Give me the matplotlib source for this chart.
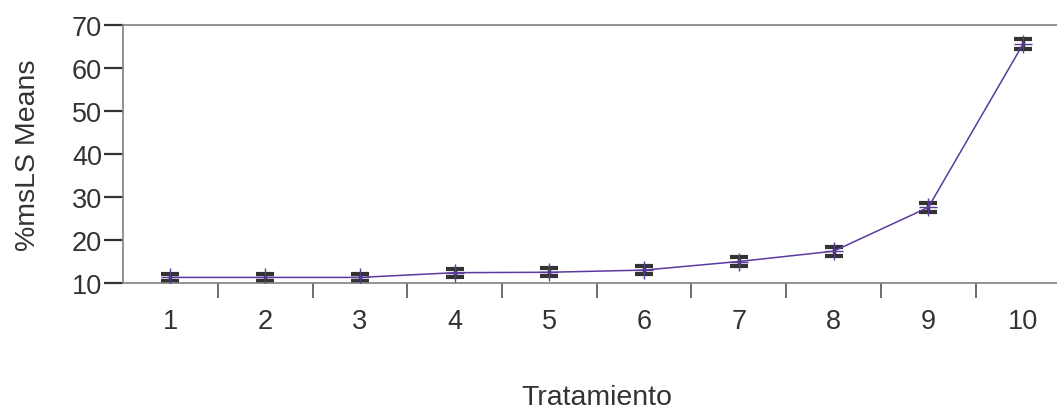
import matplotlib
matplotlib.use("Agg")
import matplotlib.pyplot as plt
from matplotlib.ticker import FixedLocator, NullFormatter

plt.rcParams['font.family'] = ['Liberation Sans', 'DejaVu Sans']

tratamiento = [1, 2, 3, 4, 5, 6, 7, 8, 9, 10]
tick_labels = ["1", "2", "3", "4", "5", "6", "7", "8", "9", "10"]
means = [11.3, 11.3, 11.3, 12.4, 12.5, 13.0, 15.0, 17.4, 27.6, 65.6]
errors = [0.9, 0.9, 0.9, 0.9, 0.9, 0.95, 1.0, 1.05, 1.05, 1.2]

W, H = 1057, 414
fig = plt.figure(figsize=(W / 100, H / 100), dpi=100)
ax = fig.add_axes([123 / W, 1 - 284 / H, (1070.5 - 123) / W, (284 - 26) / H])

text_color = '#333333'
purple = '#5b3a9e'

ax.errorbar(tratamiento, means, yerr=errors, fmt='none', ecolor='#333333',
            elinewidth=2.5, capsize=6.5, capthick=3, zorder=2)
ax.plot(tratamiento, means, color=purple, lw=1.1, marker='+', markersize=13,
        markeredgewidth=1.0, zorder=3)

ax.set_xlim(0.5, 10.5)
ax.set_ylim(10, 70)
ax.set_yticks([10, 20, 30, 40, 50, 60, 70])

ax.set_xticks(tratamiento)
ax.set_xticklabels(tick_labels)
ax.xaxis.set_minor_locator(FixedLocator([i + 0.5 for i in range(1, 10)]))
ax.xaxis.set_minor_formatter(NullFormatter())
ax.tick_params(axis='x', which='major', length=0, pad=18, labelsize=19.5,
               labelcolor=text_color)
ax.tick_params(axis='x', which='minor', length=11, width=1.2, color='#555555')
ax.tick_params(axis='y', which='major', length=13.7, width=1.6, pad=1.5,
               labelsize=19.5, labelcolor=text_color, color='#333333')

for s in ['top', 'left', 'bottom']:
    ax.spines[s].set_color('#808080')
    ax.spines[s].set_linewidth(1.2)
ax.spines['right'].set_visible(False)

ax.set_ylabel('%msLS Means', fontsize=20.5, color=text_color, labelpad=22)
ax.set_xlabel('Tratamiento', fontsize=20.5, color=text_color, labelpad=36)

fig.savefig('out.png', dpi=100)
